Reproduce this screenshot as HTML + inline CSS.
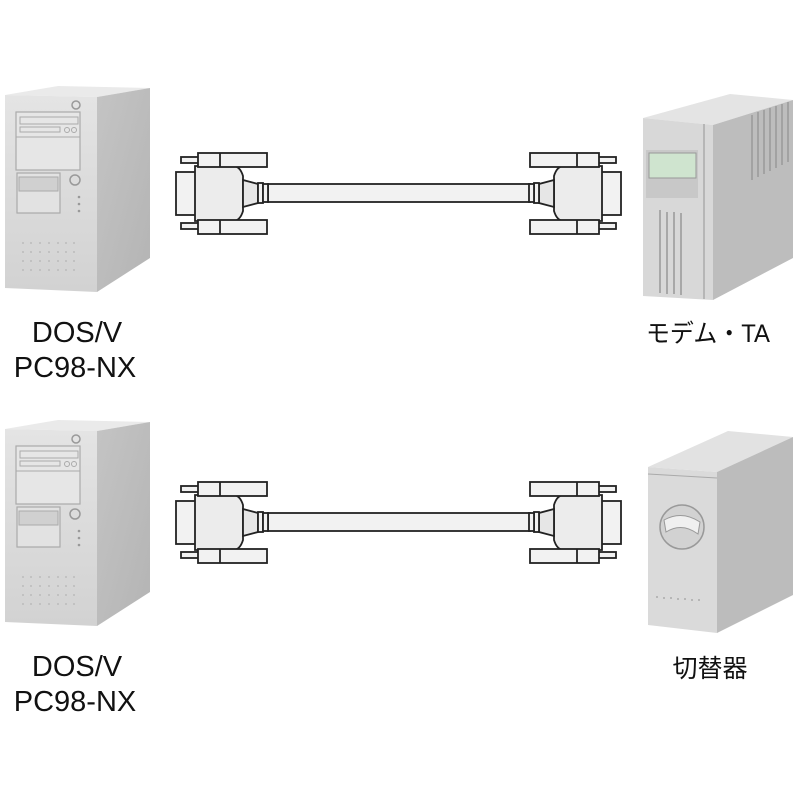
<!DOCTYPE html>
<html><head><meta charset="utf-8"><style>
html,body{margin:0;padding:0;background:#fff;width:800px;height:800px;overflow:hidden}
text{font-family:"Liberation Sans","Noto Sans CJK JP",sans-serif;fill:#111}
</style></head><body>
<svg width="800" height="800" viewBox="0 0 800 800" xmlns="http://www.w3.org/2000/svg">
<defs>
<linearGradient id="pcf" x1="0" y1="0" x2="0" y2="1"><stop offset="0" stop-color="#e4e4e4"/><stop offset="1" stop-color="#d2d2d2"/></linearGradient>
<linearGradient id="pcs" x1="0" y1="0" x2="1" y2="1"><stop offset="0" stop-color="#c4c4c4"/><stop offset="1" stop-color="#b4b4b4"/></linearGradient>
<g id="pc">
 <polygon points="5,95 97,97 150,88 58,86" fill="#eaeaea"/>
 <polygon points="97,97 150,88 150,258 97,292" fill="url(#pcs)"/>
 <polygon points="5,95 97,97 97,292 5,288" fill="url(#pcf)"/>
 <circle cx="76" cy="105" r="4" fill="none" stroke="#999" stroke-width="1.5"/>
 <rect x="16" y="112" width="64" height="58" fill="#e6e6e6" stroke="#aaa" stroke-width="1.2"/>
 <rect x="20" y="117" width="58" height="7" fill="none" stroke="#aaa"/>
 <rect x="20" y="127" width="40" height="5" fill="none" stroke="#aaa"/>
 <circle cx="67" cy="130" r="2.5" fill="none" stroke="#aaa"/><circle cx="74" cy="130" r="2.5" fill="none" stroke="#aaa"/>
 <line x1="16" y1="137" x2="80" y2="137" stroke="#aaa"/>
 <rect x="17" y="173" width="43" height="40" fill="#e2e2e2" stroke="#aaa" stroke-width="1.2"/>
 <rect x="19" y="177" width="39" height="14" fill="#d0d0d0" stroke="#aaa"/>
 <circle cx="75" cy="180" r="5" fill="none" stroke="#999" stroke-width="1.5"/>
 <circle cx="79" cy="197" r="1.3" fill="#999"/><circle cx="79" cy="204" r="1.3" fill="#999"/><circle cx="79" cy="211" r="1.3" fill="#999"/>
 <g fill="#bbb">
  <circle cx="23" cy="243" r="1"/><circle cx="31" cy="243" r="1"/><circle cx="40" cy="243" r="1"/><circle cx="49" cy="243" r="1"/><circle cx="58" cy="243" r="1"/><circle cx="66" cy="243" r="1"/><circle cx="74" cy="243" r="1"/>
  <circle cx="23" cy="252" r="1"/><circle cx="31" cy="252" r="1"/><circle cx="40" cy="252" r="1"/><circle cx="49" cy="252" r="1"/><circle cx="58" cy="252" r="1"/><circle cx="66" cy="252" r="1"/><circle cx="74" cy="252" r="1"/>
  <circle cx="23" cy="261" r="1"/><circle cx="31" cy="261" r="1"/><circle cx="40" cy="261" r="1"/><circle cx="49" cy="261" r="1"/><circle cx="58" cy="261" r="1"/><circle cx="66" cy="261" r="1"/><circle cx="74" cy="261" r="1"/>
  <circle cx="23" cy="270" r="1"/><circle cx="31" cy="270" r="1"/><circle cx="40" cy="270" r="1"/><circle cx="49" cy="270" r="1"/><circle cx="58" cy="270" r="1"/><circle cx="66" cy="270" r="1"/><circle cx="74" cy="270" r="1"/>
 </g>
</g>
<g id="conn" stroke="#222" stroke-width="1.8" fill="#f2f2f2">
 <rect x="181" y="157" width="18" height="6"/>
 <rect x="181" y="223" width="18" height="6"/>
 <rect x="176" y="172" width="20" height="43"/>
 <path d="M195,166 H233 Q240,166 243,176 L243,211 Q240,221 233,221 H195 Z" fill="#ececec"/>
 <polygon points="243,180 258,184 258,203 243,207" fill="#e6e6e6"/>
 <rect x="258" y="183" width="5" height="20"/>
 <rect x="263" y="184" width="5" height="18"/>
 <rect x="198" y="153" width="69" height="14"/>
 <line x1="220" y1="153" x2="220" y2="167"/>
 <rect x="198" y="220" width="69" height="14"/>
 <line x1="220" y1="220" x2="220" y2="234"/>
</g>
<g id="cable">
 <rect x="268" y="184" width="262" height="18" fill="#f2f2f2" stroke="#222" stroke-width="1.8"/>
 <use href="#conn"/>
 <use href="#conn" transform="translate(797,0) scale(-1,1)"/>
</g>
</defs>

<use href="#pc"/>
<use href="#pc" transform="translate(0,334)"/>
<use href="#cable"/>
<use href="#cable" transform="translate(0,329)"/>

<!-- modem -->
<polygon points="643,118 713,125 793,100 730,94" fill="#e4e4e4"/>
<polygon points="713,125 793,100 793,258 713,300" fill="#bdbdbd"/>
<polygon points="643,118 713,125 713,300 643,296" fill="#d8d8d8"/>
<line x1="704" y1="124" x2="704" y2="299" stroke="#aaa" stroke-width="1.5"/>
<rect x="646" y="150" width="52" height="48" fill="#c8c8c8"/>
<rect x="649" y="153" width="47" height="25" fill="#cfe4cf" stroke="#999"/>
<g stroke="#999" stroke-width="1.5">
 <line x1="660" y1="210" x2="660" y2="293"/><line x1="667" y1="212" x2="667" y2="294"/><line x1="674" y1="212" x2="674" y2="294"/><line x1="681" y1="213" x2="681" y2="295"/>
 <line x1="752" y1="115" x2="752" y2="180"/><line x1="758" y1="112" x2="758" y2="177"/><line x1="764" y1="110" x2="764" y2="174"/><line x1="770" y1="108" x2="770" y2="171"/><line x1="776" y1="106" x2="776" y2="168"/><line x1="782" y1="104" x2="782" y2="165"/><line x1="788" y1="102" x2="788" y2="162"/>
</g>

<!-- switcher -->
<polygon points="648,467 717,472 793,437 728,431" fill="#e2e2e2"/>
<polygon points="717,472 793,437 793,595 717,633" fill="#bcbcbc"/>
<polygon points="648,467 717,472 717,633 648,625" fill="#dadada"/>
<line x1="648" y1="474" x2="717" y2="478" stroke="#aaa"/>
<circle cx="682" cy="527" r="22" fill="#d2d2d2" stroke="#999" stroke-width="1.5"/>
<path d="M664,520 Q682,510 700,522 L698,534 Q682,522 666,532 Z" fill="#f0f0f0" stroke="#999"/>
<g fill="#aaa"><circle cx="657" cy="597" r="1"/><circle cx="664" cy="598" r="1"/><circle cx="671" cy="598" r="1"/><circle cx="678" cy="599" r="1"/><circle cx="685" cy="599" r="1"/><circle cx="692" cy="600" r="1"/><circle cx="699" cy="600" r="1"/></g>

<text x="77" y="342" font-size="29" text-anchor="middle">DOS/V</text>
<text x="75" y="377" font-size="29" text-anchor="middle">PC98-NX</text>
<text x="708" y="342" font-size="25" text-anchor="middle" textLength="124" lengthAdjust="spacingAndGlyphs">モデム・TA</text>
<text x="77" y="676" font-size="29" text-anchor="middle">DOS/V</text>
<text x="75" y="711" font-size="29" text-anchor="middle">PC98-NX</text>
<text x="710" y="677" font-size="25" text-anchor="middle">切替器</text>
</svg>
</body></html>
